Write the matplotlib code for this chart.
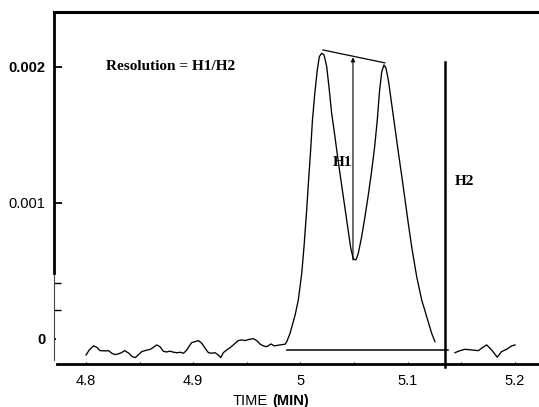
import matplotlib
matplotlib.use("Agg")
import matplotlib.pyplot as plt

plt.rcParams["font.family"] = ["Liberation Sans", "DejaVu Sans"]

# Detector trace: baseline noise running into the two partially resolved peaks
trace_time = [
    4.800, 4.803, 4.807, 4.810, 4.813, 4.818, 4.821, 4.824, 4.827, 4.830,
    4.833, 4.836, 4.840, 4.843, 4.846, 4.849, 4.852, 4.855, 4.860, 4.863,
    4.866, 4.869, 4.872, 4.875, 4.878, 4.882, 4.885, 4.888, 4.891, 4.894,
    4.897, 4.8986, 4.9017, 4.9048, 4.9080, 4.9111, 4.9142, 4.9173, 4.9204,
    4.9234, 4.9257, 4.9281, 4.9313, 4.9344, 4.9374, 4.9421, 4.9453, 4.9483,
    4.9530, 4.9561, 4.9593, 4.9623, 4.9654, 4.9686, 4.9726, 4.9757, 4.9794,
    4.9826, 4.9857, 4.9873, 4.9904, 4.9951, 4.9981, 5.0013, 5.0034, 5.0059,
    5.0077, 5.0096, 5.0113, 5.0135, 5.0158, 5.0177, 5.0199, 5.0221, 5.0246,
    5.0270, 5.0292, 5.0323, 5.0353, 5.0385, 5.0416, 5.0447, 5.0470, 5.0494,
    5.0519, 5.0541, 5.0572, 5.0603, 5.0634, 5.0664, 5.0692, 5.0718, 5.0738,
    5.0759, 5.0780, 5.0799, 5.0821, 5.0852, 5.0883, 5.0914, 5.0946, 5.0977,
    5.1008, 5.1039, 5.1086, 5.1132, 5.1179, 5.1225, 5.1256,
]
trace_signal = [
    -0.000118, -0.000081, -0.000051, -0.000061, -0.000086, -0.000088,
    -0.000086, -0.000105, -0.000115, -0.000110, -0.000101, -0.000086,
    -0.000105, -0.000130, -0.000137, -0.000115, -0.000093, -0.000086,
    -0.000076, -0.000061, -0.000044, -0.000057, -0.000090, -0.000096,
    -0.000090, -0.000098, -0.000101, -0.000098, -0.000105, -0.000081,
    -0.000044, -0.000027, -0.000020, -0.000012, -0.000032, -0.000068,
    -0.000101, -0.000105, -0.000101, -0.000118, -0.000137, -0.000101,
    -0.000081, -0.000064, -0.000044, -0.000012, -0.000007, -0.000012,
    -0.000002, 0.000002, -0.000012, -0.000037, -0.000051, -0.000057,
    -0.000037, -0.000051, -0.000046, -0.000042, -0.000039, -0.000020,
    0.000042, 0.000176, 0.000287, 0.000483, 0.000678, 0.000948, 0.001169,
    0.001389, 0.001610, 0.001808, 0.001977, 0.002075, 0.002100, 0.002087,
    0.002001, 0.001830, 0.001659, 0.001485, 0.001308, 0.001132, 0.000963,
    0.000794, 0.000669, 0.000588, 0.000581, 0.000630, 0.000752, 0.000899,
    0.001058, 0.001227, 0.001404, 0.001610, 0.001815, 0.001962, 0.002014,
    0.001990, 0.001904, 0.001727, 0.001551, 0.001374, 0.001198, 0.001022,
    0.000845, 0.000676, 0.000456, 0.000287, 0.000164, 0.000042, -0.000020,
]

# Baseline noise after the H2 marker
tail_time = [5.1443, 5.1490, 5.1536, 5.1599, 5.1661, 5.1692, 5.1739,
             5.1785, 5.1837, 5.1878, 5.1925, 5.1972, 5.2003]
tail_signal = [-0.000101, -0.000086, -0.000076, -0.000081, -0.000086,
               -0.000068, -0.000044, -0.000081, -0.000134, -0.000093,
               -0.000076, -0.000051, -0.000044]

# Construction lines for the resolution measurement
peak_line_time = [5.0211, 5.0789]
peak_line_signal = [0.002124, 0.002029]
h1_time = 5.0491
h1_bottom, h1_top = 0.00058, 0.00207
h2_time = 5.1350
h2_top = 0.002037
base_time = [4.9875, 5.1378]
base_signal = -0.000081

x_ticks = [4.8, 4.9, 5.0, 5.1, 5.2]
x_tick_labels = ["4.8", "4.9", "5", "5.1", "5.2"]
y_ticks = [0.0, 0.001, 0.002]
y_tick_labels = ["0", "0.001", "0.002"]
y_tick_weights = ["bold", "normal", "bold"]
y_extra_ticks = [0.000213, 0.00041]

x_min, x_max = 4.7701, 5.2227
y_min, y_max = -0.000184, 0.002403

fig = plt.figure(figsize=(5.39, 4.07), dpi=100)
ax = fig.add_axes([0.1002, 0.1057, 0.8998, 0.8648])
ax.set_xlim(x_min, x_max)
ax.set_ylim(y_min, y_max)

ink = "black"
ax.plot(trace_time, trace_signal, color=ink, lw=0.95)
ax.plot(tail_time, tail_signal, color=ink, lw=0.95)
ax.plot(peak_line_time, peak_line_signal, color=ink, lw=0.9)
ax.plot(base_time, [base_signal, base_signal], color=ink, lw=1.1)
ax.plot([h2_time, h2_time], [y_min - 0.00002, h2_top], color=ink, lw=1.8,
        clip_on=False)
ax.annotate("", xy=(h1_time, h1_top), xytext=(h1_time, h1_bottom),
            arrowprops=dict(arrowstyle="-|>", lw=0.8, color=ink,
                            mutation_scale=6, shrinkA=0, shrinkB=0))

serif = ["Liberation Serif", "DejaVu Serif"]
ax.text(4.8187, 0.00200, "Resolution = H1/H2", family=serif,
        fontweight="bold", fontsize=11, ha="left", va="center")
ax.text(5.0484, 0.001294, "H1", family=serif, fontweight="bold",
        fontsize=11, ha="right", va="center")
ax.text(5.1443, 0.001154, "H2", family=serif, fontweight="bold",
        fontsize=11, ha="left", va="center")

# Spines: heavy frame on top and bottom, left axis heavy only above the break
ax.spines["right"].set_visible(False)
ax.spines["top"].set_linewidth(2.2)
ax.spines["bottom"].set_linewidth(2.0)
ax.spines["bottom"].set_bounds(4.773, x_max)
ax.spines["left"].set_linewidth(2.0)
ax.spines["left"].set_bounds(0.000485, y_max)
ax.plot([x_min, x_min], [y_min + 0.00003, 0.000485], color="#444444",
        lw=0.8, clip_on=False)

ax.set_xticks(x_ticks)
ax.set_xticklabels(x_tick_labels)
ax.set_xticks([4.85, 4.95, 5.05, 5.15], minor=True)
ax.tick_params(axis="x", which="both", direction="in", length=1.5,
               width=0.8, pad=7, labelsize=10.5)

ax.set_yticks(y_ticks)
ax.set_yticklabels(y_tick_labels)
ax.set_yticks(y_extra_ticks, minor=True)
ax.tick_params(axis="y", which="major", direction="in", length=6,
               width=1.3, pad=6, labelsize=10.5)
ax.tick_params(axis="y", which="minor", direction="in", length=5,
               width=1.0)
for lbl, w in zip(ax.get_yticklabels(), y_tick_weights):
    lbl.set_fontweight(w)
ax.yaxis.get_major_ticks()[0].tick1line.set_markersize(1.5)

# Axis title with the unit set in bold
fig.text(268 / 539, 1 - 401 / 407, "TIME", fontsize=10.5, ha="right",
         va="center")
fig.text(272 / 539, 1 - 401 / 407, "(MIN)", fontsize=10.5,
         fontweight="bold", ha="left", va="center")

fig.savefig("out.png", dpi=100)
